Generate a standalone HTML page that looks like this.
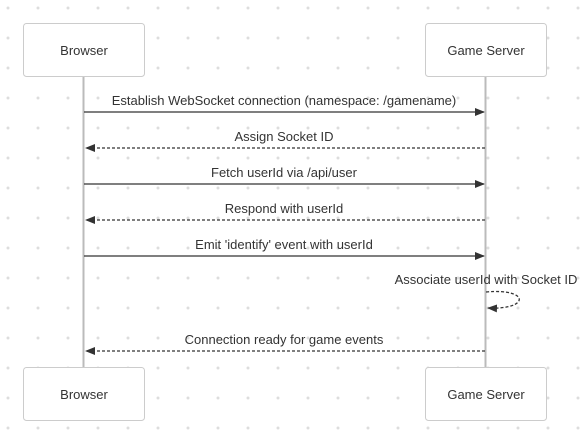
<!DOCTYPE html>
<html><head><style>body{margin:0;background:#fff}</style></head><body>
<svg width="586" height="438" xmlns="http://www.w3.org/2000/svg" font-family="Liberation Sans, Arial, sans-serif" font-size="13" fill="#333">
<defs>
<pattern id="d" x="0" y="0" width="30" height="30" patternUnits="userSpaceOnUse"><circle cx="8" cy="8" r="1.5" fill="#ddd"/></pattern>
<marker id="a" markerWidth="10" markerHeight="8" refX="9" refY="4" orient="auto" markerUnits="userSpaceOnUse"><path d="M0,0 L10,4 L0,8 z" fill="#333"/></marker>
</defs>
<rect width="586" height="438" fill="url(#d)"/>
<line x1="83.5" y1="76" x2="83.5" y2="367" stroke="#bbb" stroke-width="2"/>
<line x1="485.5" y1="76" x2="485.5" y2="367" stroke="#bbb" stroke-width="2"/>
<g stroke="#ccc" fill="#fff">
<rect x="23.5" y="23.5" width="121" height="53" rx="3"/>
<rect x="425.5" y="23.5" width="121" height="53" rx="3"/>
<rect x="23.5" y="367.5" width="121" height="53" rx="3"/>
<rect x="425.5" y="367.5" width="121" height="53" rx="3"/>
</g>
<g text-anchor="middle" fill="#333">
<text x="84" y="55">Browser</text><text x="486" y="55">Game Server</text>
<text x="84" y="399">Browser</text><text x="486" y="399">Game Server</text>
<text x="284" y="105">Establish WebSocket connection (namespace: /gamename)</text>
<text x="284" y="141">Assign Socket ID</text>
<text x="284" y="177">Fetch userId via /api/user</text>
<text x="284" y="213">Respond with userId</text>
<text x="284" y="249">Emit 'identify' event with userId</text>
<text x="486" y="284">Associate userId with Socket ID</text>
<text x="284" y="344">Connection ready for game events</text>
</g>
<g stroke="#333" stroke-width="1.3" fill="none">
<line x1="84" y1="112" x2="484" y2="112" marker-end="url(#a)"/>
<line x1="485" y1="148" x2="86" y2="148" stroke-dasharray="3,2" marker-end="url(#a)"/>
<line x1="84" y1="184" x2="484" y2="184" marker-end="url(#a)"/>
<line x1="485" y1="220" x2="86" y2="220" stroke-dasharray="3,2" marker-end="url(#a)"/>
<line x1="84" y1="256" x2="484" y2="256" marker-end="url(#a)"/>
<path d="M486,292 C530,288 530,310 488,308" stroke-dasharray="3,2" marker-end="url(#a)"/>
<line x1="485" y1="351" x2="86" y2="351" stroke-dasharray="3,2" marker-end="url(#a)"/>
</g>
</svg>
</body></html>
